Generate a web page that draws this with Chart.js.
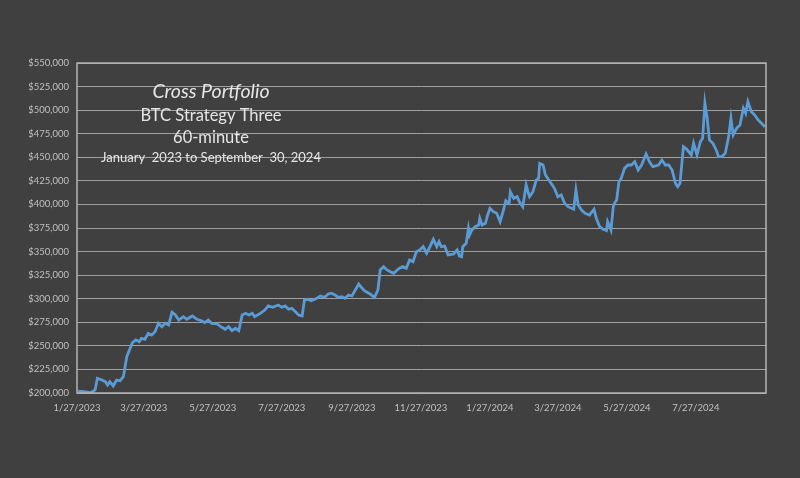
<!DOCTYPE html>
<html>
<head>
<meta charset="utf-8">
<script src="https://cdn.jsdelivr.net/npm/chart.js@4/dist/chart.umd.min.js"></script>
<style>
  html, body { margin: 0; padding: 0; background: #404040; }
  #wrap { width: 800px; height: 478px; position: relative; }
</style>
</head>
<body>
<div id="wrap"><canvas id="c" width="800" height="478"></canvas></div>
<script>
// ---- data ----
const startDate = '2023-01-27';           // day 0 of the x axis
const endDay = 609;                        // last day shown (~9/30/2024)
const dayOffsets = [
  1,6,12,16,18,22,25,27,29,32,
  35,38,41,44,47,49,52,55,57,60,
  63,66,69,72,75,78,81,84,87,90,
  94,97,102,106,110,113,116,119,124,128,
  131,134,137,140,143,146,149,152,155,157,
  162,166,169,173,178,181,184,187,190,193,
  196,199,201,204,207,212,215,219,222,225,
  228,231,234,237,240,243,246,249,252,254,
  259,263,266,268,271,274,277,280,283,285,
  288,291,294,297,300,303,306,309,312,315,
  318,320,322,325,328,333,336,338,340,341,
  344,346,347,349,352,355,356,358,361,363,
  365,368,371,374,377,379,382,383,386,389,
  391,394,397,399,400,403,406,408,409,412,
  414,416,419,422,425,428,431,434,439,441,
  443,446,449,453,457,459,462,465,468,469,
  472,474,475,477,479,481,484,487,490,493,
  496,499,503,506,509,514,517,520,523,526,
  529,531,533,536,539,543,545,548,551,553,
  555,557,559,562,565,567,570,573,576,578,
  580,583,586,589,591,593,596,599,602,605,
  608
];
const equity = [
  202100,201400,200300,203200,215600,213800,212000,208500,212000,207400,
  213800,213000,217300,238500,247400,253400,256200,254400,258000,257000,
  263300,261500,265000,273900,270300,273900,272100,285600,282700,277400,
  280900,278200,281700,278200,276700,274600,277400,273900,273200,269700,
  267600,270300,266100,268600,266100,282700,284500,282700,284500,280900,
  284500,288000,292300,290900,293300,290900,292300,288800,289800,286200,
  282700,281700,298600,299400,297900,300400,302900,301500,305000,305800,
  303900,301500,302100,300400,303900,302900,309300,315600,311000,308500,
  305000,301500,309300,330500,334000,330500,328700,327000,330500,332300,
  334000,332300,341100,339300,349900,351700,355200,348200,355200,363000,
  355200,360500,355200,355900,346400,347400,351700,345300,344600,355200,
  358800,374700,367600,372900,376400,378200,385300,378200,380000,388800,
  395900,392300,390600,381700,394100,404000,401200,413500,406500,408200,
  402900,397600,420600,411800,408200,413500,425900,427700,443600,441800,
  431200,427700,422400,417100,408200,410000,401200,397600,394900,415300,
  399400,394100,390600,388800,394900,385300,376400,373600,372200,381700,
  372900,397600,401200,404700,424100,427700,438300,441800,441800,445300,
  436500,441800,453500,445300,440000,441800,447100,441800,441800,436500,
  422400,418800,422400,461300,458500,452500,464900,452500,466600,470200,
  507300,491400,468400,464900,457800,450600,450600,454300,471900,491400,
  473700,480800,484300,502000,496700,509000,498400,494900,489600,486100,
  482500
];
const xTickLabels = ['1/27/2023','3/27/2023','5/27/2023','7/27/2023','9/27/2023',
                     '11/27/2023','1/27/2024','3/27/2024','5/27/2024','7/27/2024'];
const yMin = 200000, yMax = 550000, yStep = 25000;
const titleLines = ['Cross Portfolio', 'BTC Strategy Three', '60-minute', 'January  2023 to September  30, 2024'];

// ---- helpers ----
function dayOf(label) {
  const [m, d, y] = label.split('/').map(Number);
  const s = new Date(startDate + 'T00:00:00Z');
  return Math.round((Date.UTC(y, m - 1, d) - s.getTime()) / 86400000);
}
const xTickDays = xTickLabels.map(dayOf);
const points = dayOffsets.map((d, i) => ({ x: d, y: equity[i] }));

const FONT = 'Lato, "Liberation Sans", sans-serif';

const frame = {
  id: 'frame',
  afterDraw(chart) {
    const { ctx, chartArea: a } = chart;
    ctx.save();
    ctx.strokeStyle = '#b4b4b4';
    ctx.lineWidth = 1.5;
    ctx.strokeRect(a.left, a.top, a.right - a.left, a.bottom - a.top);
    ctx.restore();
  }
};

const overlayTitle = {
  id: 'overlayTitle',
  afterDraw(chart) {
    const { ctx, chartArea: a } = chart;
    const cx = a.left + 134;
    const styles = [
      { font: 'italic 19.5px ' + FONT, y: a.top + 29 },
      { font: '16.5px ' + FONT, y: a.top + 53 },
      { font: '16.5px ' + FONT, y: a.top + 75 },
      { font: '13px ' + FONT, y: a.top + 95 }
    ];
    ctx.save();
    ctx.fillStyle = '#e6e6e6';
    ctx.textAlign = 'center';
    ctx.textBaseline = 'middle';
    titleLines.forEach((t, i) => {
      ctx.font = styles[i].font;
      ctx.fillText(t, cx, styles[i].y);
    });
    ctx.restore();
  }
};

new Chart(document.getElementById('c'), {
  type: 'line',
  data: {
    datasets: [{
      data: points,
      borderColor: '#5b9bd5',
      borderWidth: 2.8,
      pointRadius: 0,
      tension: 0,
      fill: false
    }]
  },
  options: {
    responsive: false,
    animation: false,
    parsing: true,
    layout: { padding: { top: 63, right: 34, left: 0, bottom: 0 } },
    plugins: { legend: { display: false }, tooltip: { enabled: false }, title: { display: false } },
    scales: {
      x: {
        type: 'linear',
        min: 0,
        max: endDay,
        grid: { display: false, drawTicks: false },
        border: { display: false },
        afterBuildTicks(scale) { scale.ticks = xTickDays.map(v => ({ value: v })); },
        afterFit(scale) { scale.height = 85; },
        ticks: {
          autoSkip: false,
          maxRotation: 0,
          padding: 9,
          color: '#c0c0c0',
          font: { family: FONT, size: 9.5 },
          callback(v) { const i = xTickDays.indexOf(v); return i >= 0 ? xTickLabels[i] : ''; }
        }
      },
      y: {
        min: yMin,
        max: yMax,
        grid: { color: '#a0a0a0', lineWidth: 1, drawTicks: false },
        border: { display: false },
        afterFit(scale) { scale.width = 77; },
        ticks: {
          stepSize: yStep,
          padding: 8,
          color: '#c0c0c0',
          font: { family: FONT, size: 9.5 },
          callback(v) { return '$' + Number(v).toLocaleString('en-US'); }
        }
      }
    }
  },
  plugins: [frame, overlayTitle]
});
</script>
</body>
</html>
